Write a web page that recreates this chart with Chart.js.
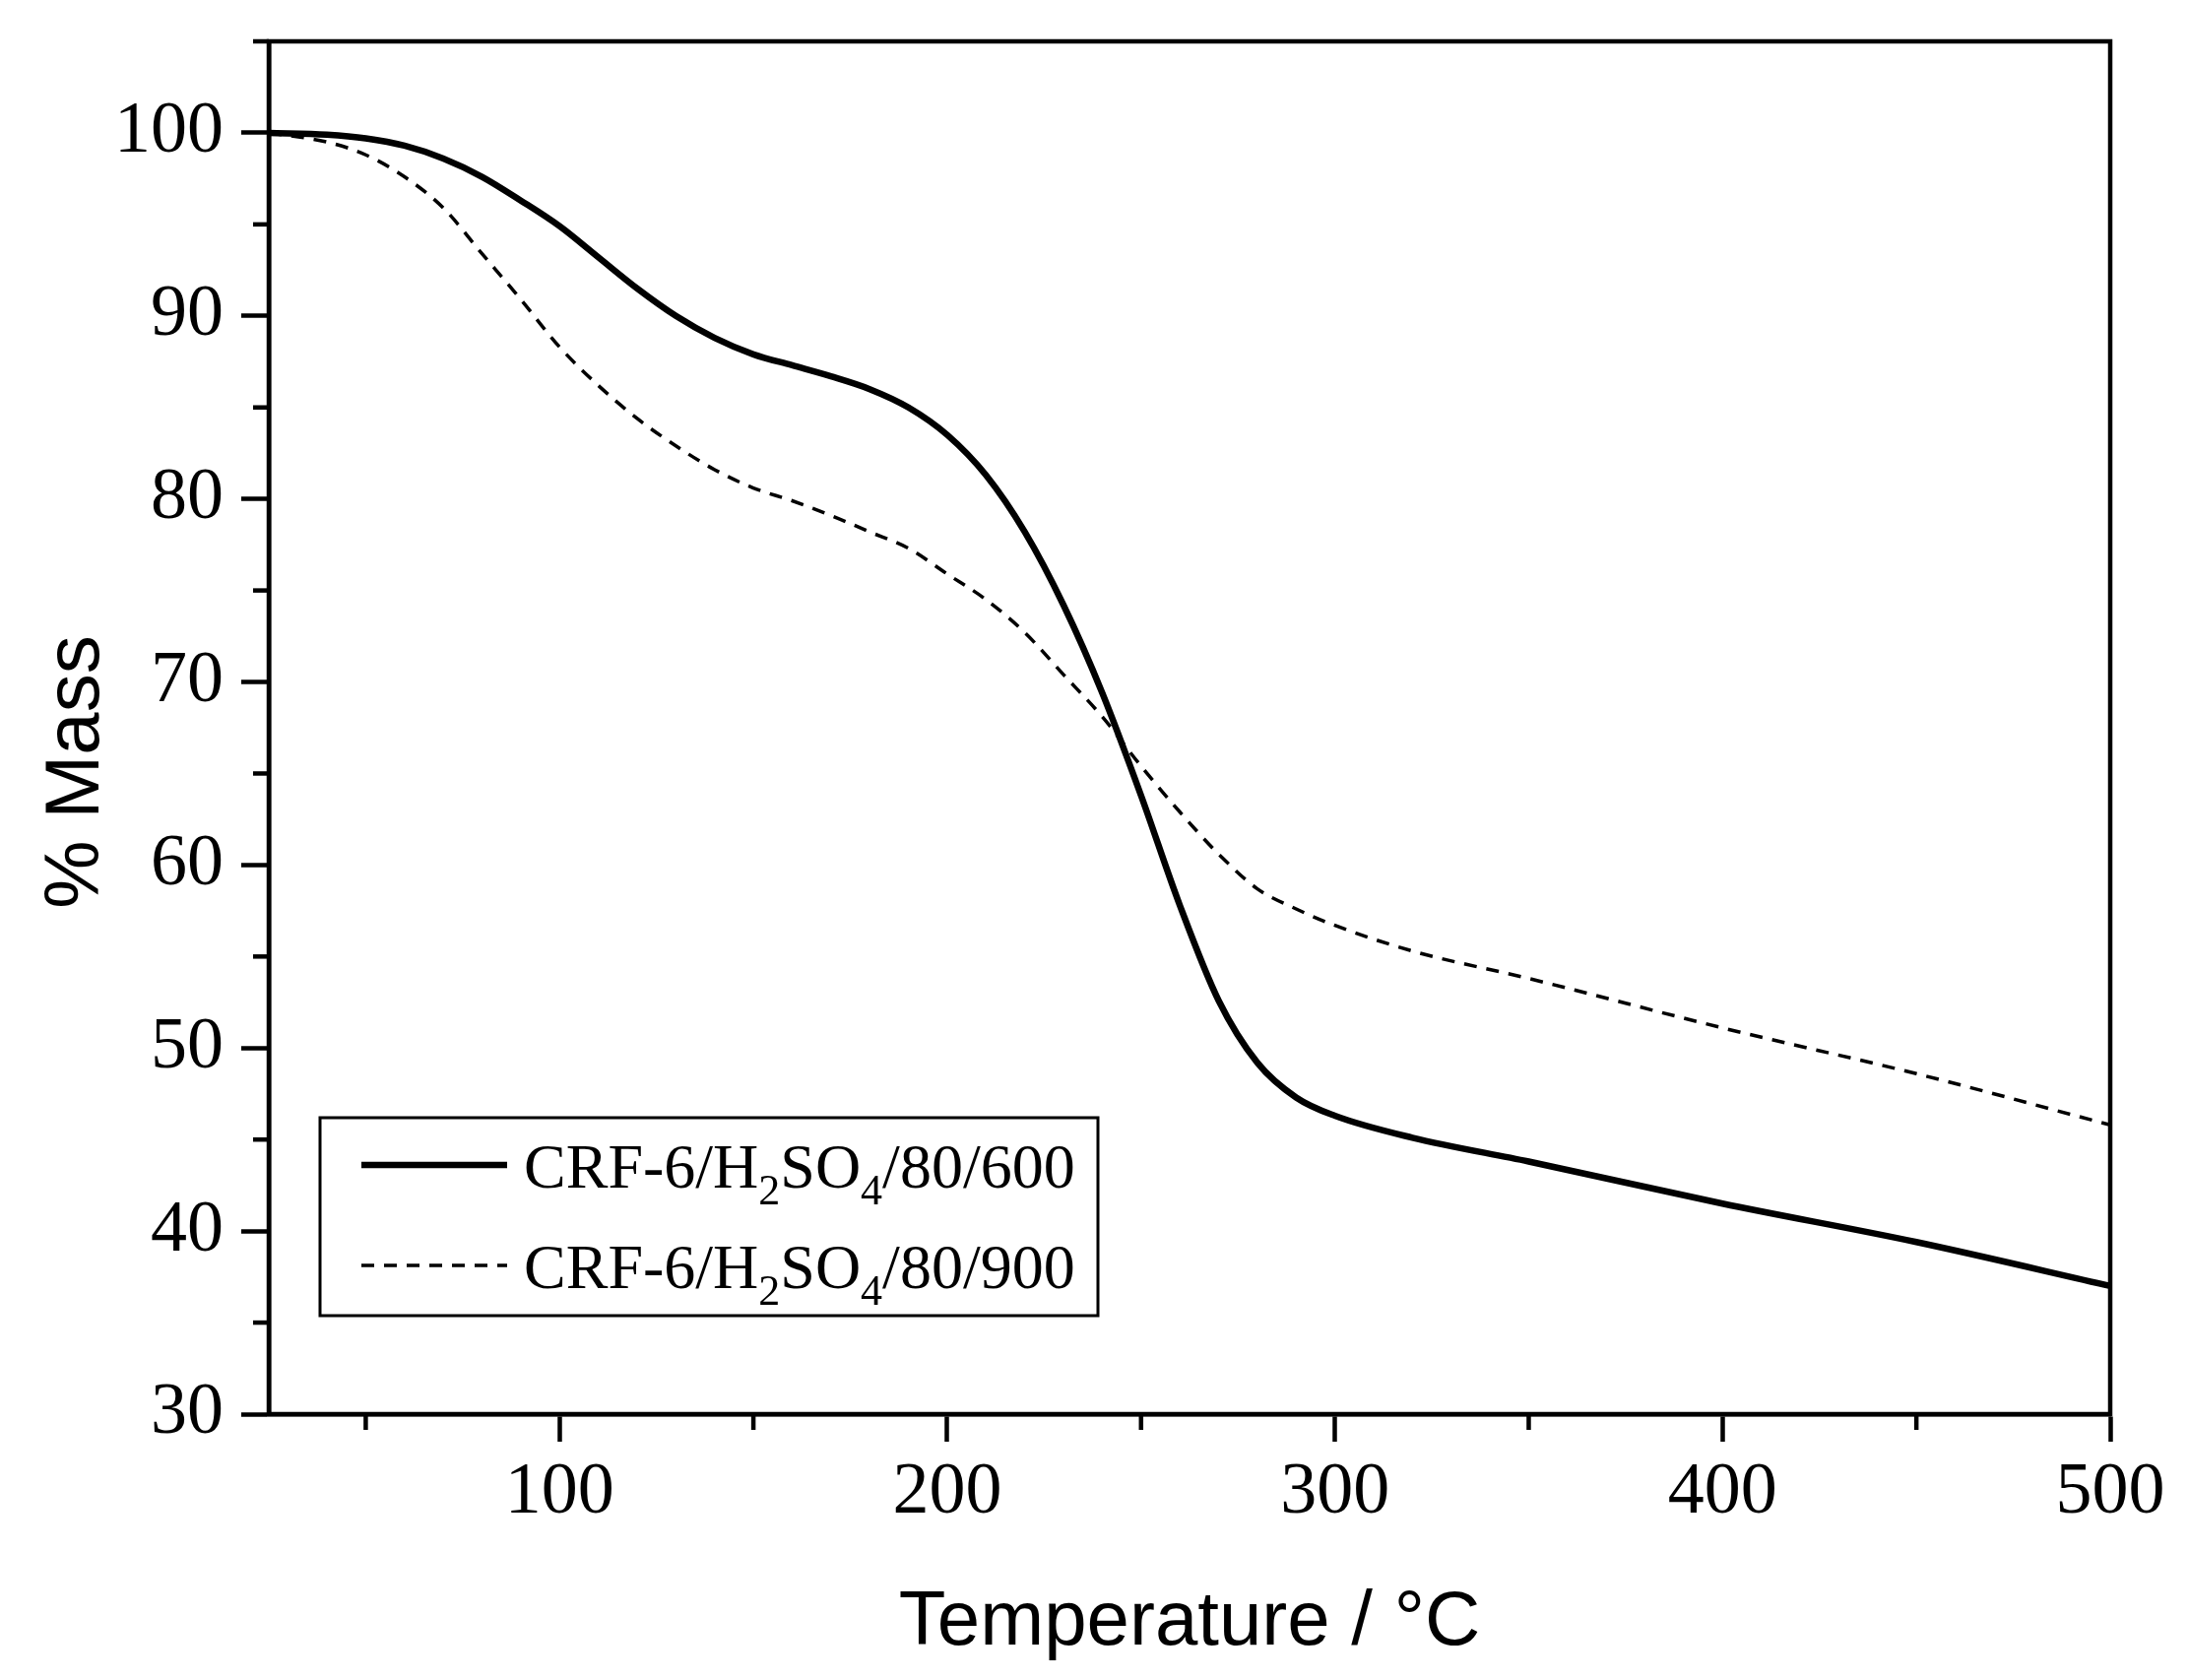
<!DOCTYPE html>
<html>
<head>
<meta charset="utf-8">
<script src="https://cdn.jsdelivr.net/npm/chart.js@4/dist/chart.umd.min.js"></script>
<style>
  html, body { margin: 0; padding: 0; background: #ffffff; }
  #wrap { width: 2222px; height: 1706px; }
</style>
</head>
<body>
<div id="wrap"><canvas id="c" width="2222" height="1706"></canvas></div>
<script>
// ---- data ----
const temperature = [25, 40, 50, 60, 70, 80, 90, 100, 110, 120, 130, 140, 150, 160, 170, 180, 190, 200,
  210, 220, 230, 240, 250, 260, 270, 280, 290, 300, 320, 350, 400, 450, 500];
const mass600 = [100, 99.9, 99.7, 99.3, 98.6, 97.6, 96.3, 94.9, 93.2, 91.5, 90.0, 88.8, 87.9, 87.3, 86.7, 86.0, 85.0, 83.5,
  81.3, 78.2, 74.2, 69.4, 63.8, 57.8, 52.6, 49.2, 47.3, 46.3, 45.1, 43.8, 41.5, 39.4, 37.0];
const mass900 = [100, 99.5, 98.8, 97.6, 95.9, 93.4, 90.9, 88.3, 86.2, 84.4, 82.9, 81.6, 80.6, 79.9, 79.1, 78.2, 77.3, 75.9,
  74.5, 72.7, 70.4, 68.1, 65.4, 62.9, 60.6, 58.7, 57.6, 56.7, 55.3, 53.8, 51.1, 48.6, 45.8];
const seriesLabels = ['CRF-6/H2SO4/80/600', 'CRF-6/H2SO4/80/900'];
const xMajorTicks = [100, 200, 300, 400, 500];
const xMinorTicks = [50, 150, 250, 350, 450];
const yMajorTicks = [30, 40, 50, 60, 70, 80, 90, 100];
const yMinorTicks = [35, 45, 55, 65, 75, 85, 95, 105];
const xTitle = 'Temperature / °C';
const yTitle = '% Mass';

const serif = '"Liberation Serif", "Times New Roman", serif';
const sans = '"Liberation Sans", Arial, sans-serif';
const AXIS_W = 4.5;

function toPoints(xs, ys) { return xs.map((x, i) => ({ x: x, y: ys[i] })); }

function noPad(scale) {
  scale.paddingTop = 0; scale.paddingBottom = 0;
  scale.paddingLeft = 0; scale.paddingRight = 0;
}

// minor ticks, frame and y title
const decor = {
  id: 'decor',
  afterDraw(chart) {
    const ctx = chart.ctx;
    const a = chart.chartArea;
    const xs = chart.scales.x, ys = chart.scales.y;
    ctx.save();
    ctx.strokeStyle = '#000';
    ctx.lineWidth = AXIS_W;
    ctx.lineCap = 'butt';
    ctx.strokeRect(a.left, a.top, a.right - a.left, a.bottom - a.top);
    xMinorTicks.forEach(v => {
      const px = xs.getPixelForValue(v);
      ctx.beginPath(); ctx.moveTo(px, a.bottom); ctx.lineTo(px, a.bottom + 16); ctx.stroke();
    });
    yMinorTicks.forEach(v => {
      const py = ys.getPixelForValue(v);
      ctx.beginPath(); ctx.moveTo(a.left, py); ctx.lineTo(a.left - 16, py); ctx.stroke();
    });
    ctx.fillStyle = '#000';
    ctx.font = '78px ' + sans;
    ctx.textAlign = 'center';
    ctx.textBaseline = 'middle';
    ctx.translate(78, 784);
    ctx.rotate(-Math.PI / 2);
    ctx.fillText(yTitle, 0, 0);
    ctx.restore();
  }
};

function drawRich(ctx, text, x, y) {
  let cx = x;
  for (let i = 0; i < text.length; i++) {
    const ch = text[i];
    const sub = /\d/.test(ch) && i > 0 && /[A-Za-z]/.test(text[i - 1]);
    ctx.font = (sub ? '44px ' : '64px ') + serif;
    ctx.fillText(ch, cx, sub ? y + 17 : y);
    cx += ctx.measureText(ch).width;
  }
}

const legendBox = {
  id: 'legendBox',
  afterDraw(chart) {
    const ctx = chart.ctx;
    ctx.save();
    ctx.strokeStyle = '#000';
    ctx.lineWidth = 3;
    ctx.strokeRect(325, 1135, 790, 201);
    const rows = [1183, 1285];
    chart.data.datasets.forEach((ds, i) => {
      const y = rows[i];
      ctx.beginPath();
      ctx.lineWidth = ds.borderWidth;
      ctx.setLineDash(ds.borderDash || []);
      ctx.moveTo(367, y); ctx.lineTo(515, y);
      ctx.stroke();
      ctx.setLineDash([]);
      ctx.fillStyle = '#000';
      ctx.textBaseline = 'alphabetic';
      ctx.textAlign = 'left';
      drawRich(ctx, ds.label, 532, y + 23);
    });
    ctx.restore();
  }
};

const whiteBg = {
  id: 'whiteBg',
  beforeDraw(chart) {
    const ctx = chart.ctx;
    ctx.save();
    ctx.fillStyle = '#fff';
    ctx.fillRect(0, 0, chart.width, chart.height);
    ctx.restore();
  }
};

new Chart(document.getElementById('c'), {
  type: 'line',
  data: {
    datasets: [
      {
        label: seriesLabels[0],
        data: toPoints(temperature, mass600),
        borderColor: '#000',
        borderWidth: 6.5,
        pointRadius: 0,
        cubicInterpolationMode: 'monotone',
        fill: false
      },
      {
        label: seriesLabels[1],
        data: toPoints(temperature, mass900),
        borderColor: '#000',
        borderWidth: 3.5,
        borderDash: [13, 10],
        pointRadius: 0,
        cubicInterpolationMode: 'monotone',
        fill: false
      }
    ]
  },
  options: {
    responsive: false,
    devicePixelRatio: 1,
    animation: false,
    layout: { padding: { left: 0, right: 79, top: 42, bottom: 0 } },
    plugins: { legend: { display: false }, tooltip: { enabled: false } },
    scales: {
      x: {
        type: 'linear',
        min: 25,
        max: 500,
        afterBuildTicks(scale) { scale.ticks = xMajorTicks.map(v => ({ value: v })); },
        afterFit(scale) { scale.height = 270; noPad(scale); },
        grid: { drawOnChartArea: false, drawTicks: true, tickLength: 28, tickColor: '#000', tickWidth: AXIS_W },
        border: { display: true, color: '#000', width: AXIS_W },
        ticks: { color: '#000', font: { family: serif, size: 74 }, padding: 8, maxRotation: 0, autoSkip: false },
        title: { display: true, text: xTitle, color: '#000', font: { family: sans, size: 78 }, padding: { top: 0, bottom: 11 } }
      },
      y: {
        type: 'linear',
        min: 30,
        max: 105,
        afterBuildTicks(scale) { scale.ticks = yMajorTicks.map(v => ({ value: v })); },
        afterFit(scale) { scale.width = 273; noPad(scale); },
        grid: { drawOnChartArea: false, drawTicks: true, tickLength: 28, tickColor: '#000', tickWidth: AXIS_W },
        border: { display: true, color: '#000', width: AXIS_W },
        ticks: { color: '#000', font: { family: serif, size: 74 }, padding: 18, autoSkip: false },
        title: { display: false }
      }
    }
  },
  plugins: [whiteBg, decor, legendBox]
});
</script>
</body>
</html>
